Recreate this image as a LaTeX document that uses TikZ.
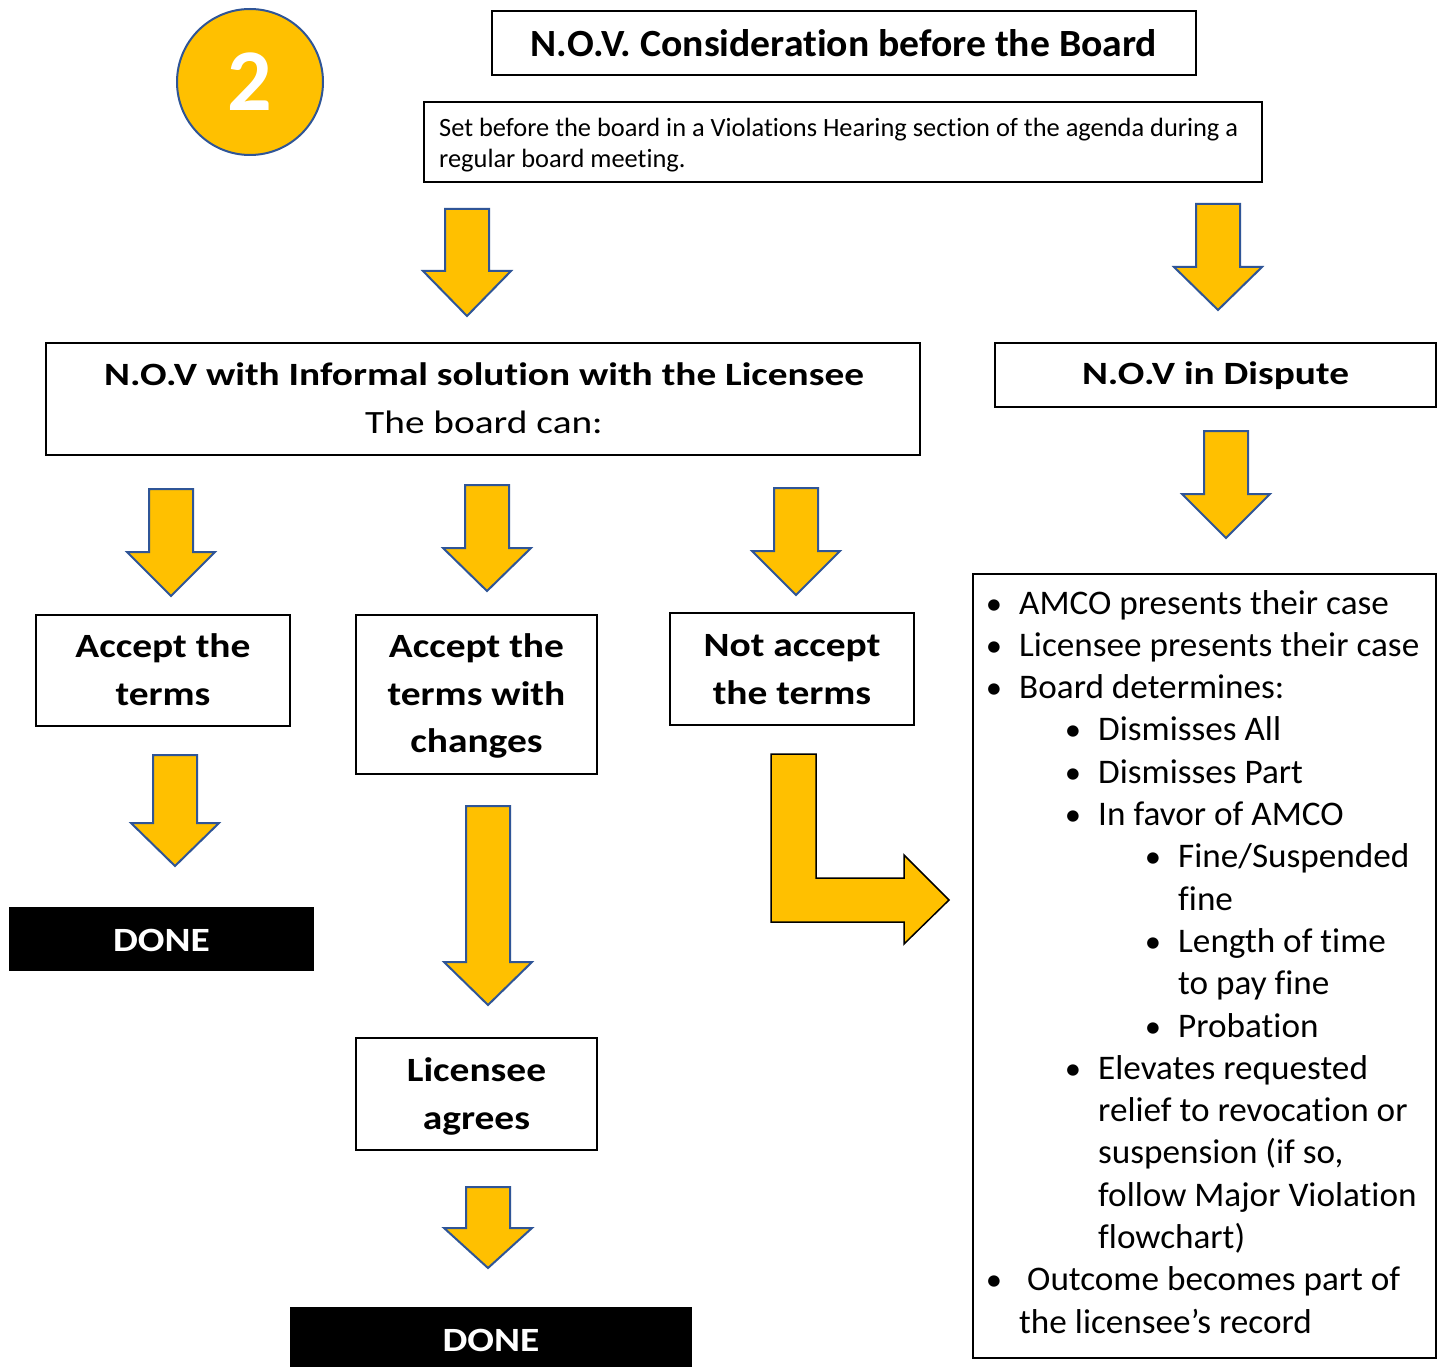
\documentclass[tikz,border=0pt]{standalone}
\usepackage{fontspec}
\setmainfont{Carlito}[Ligatures=NoCommon]
\newfontfamily\titlefam[FakeStretch=1.03,Ligatures=NoCommon]{Carlito}
\newfontfamily\headfam[FakeStretch=1.21,Ligatures=NoCommon]{Carlito}
\newfontfamily\boxfam[FakeStretch=1.16,Ligatures=NoCommon]{Carlito}
\newfontfamily\listfam[FakeStretch=1.02,Ligatures=NoCommon]{Carlito}
\definecolor{gold}{HTML}{FFC000}
\definecolor{edgeblue}{HTML}{2F5597}
\newcommand\blockdown[4]{%
  \draw[blockarrow] (#1-22,#2) -- (#1+22,#2) -- (#1+22,#3) -- (#1+44,#3) -- (#1,#4) -- (#1-44,#3) -- (#1-22,#3) -- cycle;}
\begin{document}
\begin{tikzpicture}[x=1pt,y=-1pt,
  box/.style={draw=black, line width=1.5pt, inner sep=0pt},
  txt/.style={anchor=base, inner sep=0pt},
  titletxt/.style={txt, font=\titlefam\fontsize{38.5}{40}\selectfont\bfseries},
  subtxt/.style={anchor=base west, inner sep=0pt, font=\fontsize{26.4}{30}\selectfont},
  headtxt/.style={txt, font=\headfam\fontsize{32.5}{40}\selectfont\bfseries},
  headreg/.style={txt, font=\headfam\fontsize{32.5}{40}\selectfont},
  boxtxt/.style={txt, font=\boxfam\fontsize{34}{40}\selectfont\bfseries},
  donetxt/.style={txt, text=white, font=\boxfam\fontsize{34}{40}\selectfont\bfseries},
  blockarrow/.style={fill=gold, draw=edgeblue, line width=2pt, line join=miter},
  larrowstyle/.style={fill=gold, draw=black, line width=1.5pt, line join=miter},
  donebox/.style={fill=black, inner sep=0pt},
  listline/.style={anchor=base west, inner sep=0pt, font=\listfam\fontsize{34.5}{40}\selectfont},
  bul/.style={anchor=base, inner sep=0pt, font=\listfam\fontsize{32}{40}\selectfont}
]
\useasboundingbox (0,0) rectangle (1444,1367);
\fill[white] (0,0) rectangle (1444,1367);

% badge
\node[circle, fill=gold, draw=edgeblue, line width=2pt, minimum size=146pt, inner sep=0pt,
      text=white, font=\fontsize{88}{88}\selectfont\bfseries] (badge) at (250,82) {2};

% title
\node[box, minimum width=704pt, minimum height=64pt] (title) at (844,43) {};
\node[titletxt] (titlet) at (844,57) {N.O.V. Consideration before the Board};
\node[box, minimum width=838pt, minimum height=80pt] (sub) at (843,142) {};
\node[subtxt] (sub1) at (439,137) {Set before the board in a Violations Hearing section of the agenda during a};
\node[subtxt] (sub2) at (439,168) {regular board meeting.};

\blockdown{467}{209}{271}{316}
\blockdown{1218}{204}{267}{310}

% second row
\node[box, minimum width=874pt, minimum height=112pt] (informal) at (483,399) {};
\node[headtxt] (informal1) at (484,385) {N.O.V with Informal solution with the Licensee};
\node[headreg] (informal2) at (484,433) {The board can:};
\node[box, minimum width=441pt, minimum height=64pt] (dispute) at (1215.5,375) {};
\node[headtxt] (dispute1) at (1215.5,384) {N.O.V in Dispute};

\blockdown{1226}{431}{494}{538}
\blockdown{171}{489}{552}{596}
\blockdown{487}{485}{548}{591}
\blockdown{796}{488}{551}{595}

% third row
\node[box, minimum width=254pt, minimum height=111pt] (accept) at (163,670.5) {};
\node[boxtxt] (accept1) at (163,657) {Accept the};
\node[boxtxt] (accept2) at (163,705) {terms};
\node[box, minimum width=241pt, minimum height=159pt] (changes) at (476.5,694.5) {};
\node[boxtxt] (changes1) at (476.5,657) {Accept the};
\node[boxtxt] (changes2) at (476.5,705) {terms with};
\node[boxtxt] (changes3) at (476.5,752) {changes};
\node[box, minimum width=244pt, minimum height=112pt] (notaccept) at (792,669) {};
\node[boxtxt] (notaccept1) at (792,656) {Not accept};
\node[boxtxt] (notaccept2) at (792,704) {the terms};

\blockdown{175}{755}{823}{866}
\node[donebox, minimum width=305pt, minimum height=64pt] (done1) at (161.5,939) {};
\node[donetxt] (done1t) at (161.5,951) {DONE};

\blockdown{488}{806}{962}{1005}
\node[box, minimum width=241pt, minimum height=112pt] (agrees) at (476.5,1094) {};
\node[boxtxt] (agrees1) at (476.5,1081) {Licensee};
\node[boxtxt] (agrees2) at (476.5,1129) {agrees};
\blockdown{488}{1187}{1228}{1268}
\node[donebox, minimum width=402pt, minimum height=64pt] (done2) at (491,1339) {};
\node[donetxt] (done2t) at (491,1351) {DONE};

% L arrow
\draw[larrowstyle] (771,754) -- (816,754) -- (816,878) -- (904,878) -- (904,855)
  -- (949,900) -- (904,944) -- (904,922) -- (771,922) -- cycle;

% big list box
\node[box, minimum width=463pt, minimum height=784pt] (bigbox) at (1204.5,966) {};
\node[bul] (b1) at (994,614) {•};
\node[listline] (t1) at (1019,614) {AMCO presents their case};
\node[bul] (b2) at (994,656.3) {•};
\node[listline] (t2) at (1019,656.3) {Licensee presents their case};
\node[bul] (b3) at (994,698.6) {•};
\node[listline] (t3) at (1019,698.6) {Board determines:};
\node[bul] (b4) at (1073,740.9) {•};
\node[listline] (t4) at (1098,740.9) {Dismisses All};
\node[bul] (b5) at (1073,783.2) {•};
\node[listline] (t5) at (1098,783.2) {Dismisses Part};
\node[bul] (b6) at (1073,825.5) {•};
\node[listline] (t6) at (1098,825.5) {In favor of AMCO};
\node[bul] (b7) at (1153,867.8) {•};
\node[listline] (t7) at (1178,867.8) {Fine/Suspended};
\node[listline] (t7b) at (1178,910.1) {fine};
\node[bul] (b8) at (1153,952.4) {•};
\node[listline] (t8) at (1178,952.4) {Length of time};
\node[listline] (t8b) at (1178,994.7) {to pay fine};
\node[bul] (b9) at (1153,1037) {•};
\node[listline] (t9) at (1178,1037) {Probation};
\node[bul] (b10) at (1073,1079.3) {•};
\node[listline] (t10) at (1098,1079.3) {Elevates requested};
\node[listline] (t10b) at (1098,1121.6) {relief to revocation or};
\node[listline] (t10c) at (1098,1163.9) {suspension (if so,};
\node[listline] (t10d) at (1098,1206.2) {follow Major Violation};
\node[listline] (t10e) at (1098,1248.5) {flowchart)};
\node[bul] (b11) at (994,1290.8) {•};
\node[listline] (t11) at (1027,1290.8) {Outcome becomes part of};
\node[listline] (t11b) at (1019,1333.1) {the licensee’s record};
\end{tikzpicture}
\end{document}
